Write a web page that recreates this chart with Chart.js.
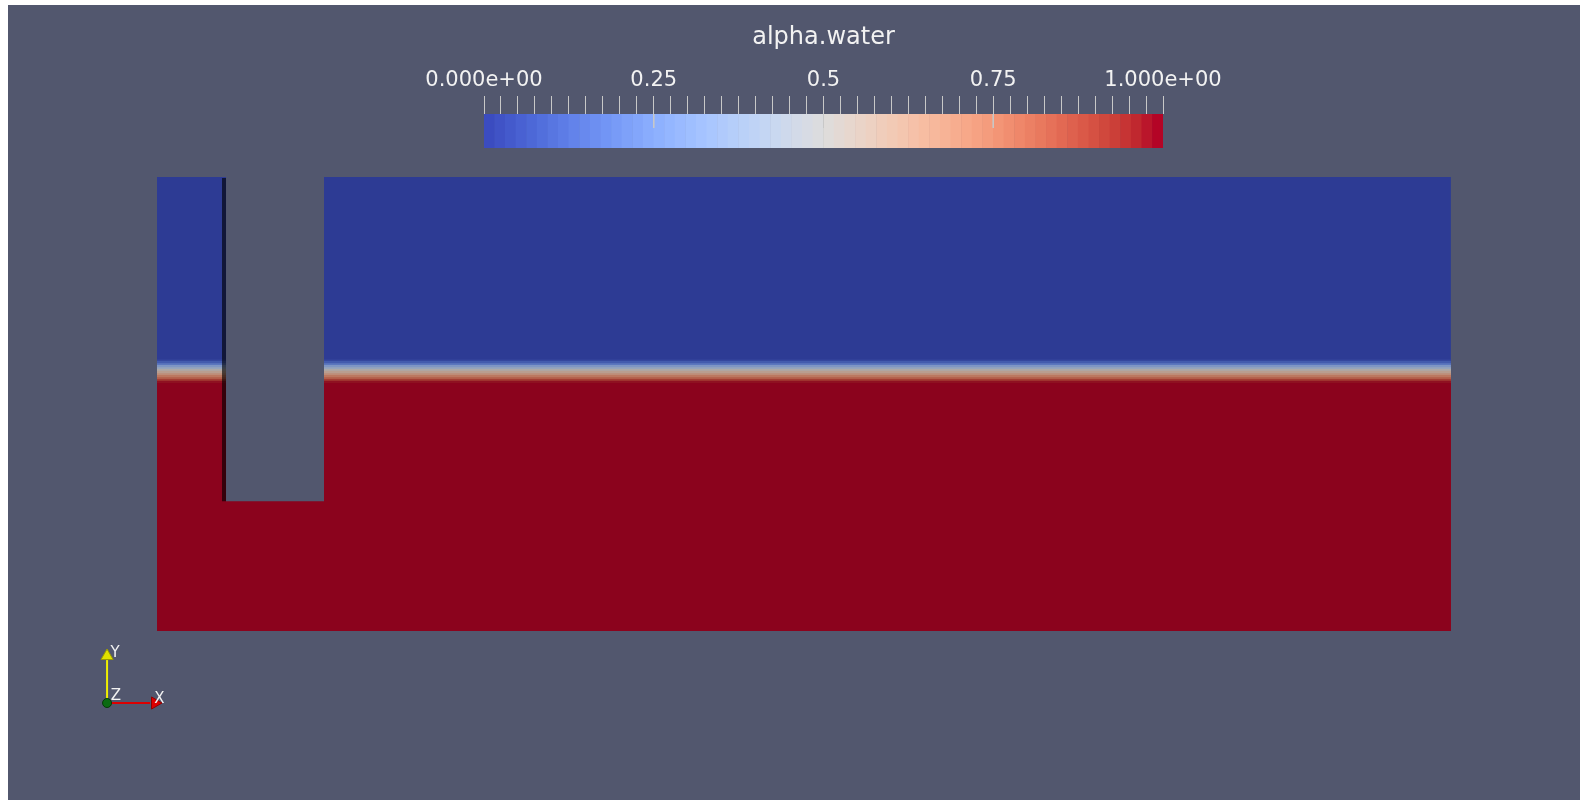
<!DOCTYPE html>
<html lang="en">
<head>
  <meta charset="UTF-8" />
  <title>alpha.water</title>
  <script src="https://cdn.jsdelivr.net/npm/chart.js"></script>
  <style>
    html, body { margin: 0; padding: 0; background: #fff; }
    #view { position: absolute; left: 8px; top: 5px; width: 1572px; height: 795px; background: #52576e; overflow: hidden; }
    #view canvas { position: absolute; left: 0; top: 0; }
  </style>
</head>
<body>
  <div id="view">
    <canvas id="field" width="1572" height="795"></canvas>
    <canvas id="legend" width="1572" height="795"></canvas>
  </div>

  <script>
    // tank (height = 1), layers top -> bottom: top edge of each layer and its alpha.water
    const tankLength = 2.85;
    const tankHeight = 1.0;
    const layerTop   = [1.0, 0.599, 0.595, 0.590, 0.586, 0.581, 0.577, 0.573, 0.568, 0.564, 0.559, 0.555, 0.551, 0.546];
    const layerAlpha = [0,   0.03,  0.1,   0.2,   0.32,  0.42,  0.5,   0.58,  0.66,  0.74,  0.82,  0.9,   0.97,  1];

    // baffle (empty cut-out in the mesh)
    const baffleLeft = 0.143;
    const baffleEdge = 0.152;
    const baffleRight = 0.368;
    const baffleBottom = 0.286;

    // colour legend
    const tickValues = [0, 0.25, 0.5, 0.75, 1];
    const tickLabels = ['0.000e+00', '0.25', '0.5', '0.75', '1.000e+00'];

    const bg = '#52576e';
    const textColor = '#f2f2f2';
    const fontFamily = '"DejaVu Sans", sans-serif';

    // Cool to Warm (Moreland) table
    const coolWarm = [
      [59,76,192],[68,90,204],[77,104,215],[87,117,225],[98,130,234],[108,142,241],[119,154,247],[130,165,251],
      [141,176,254],[152,185,255],[163,194,255],[174,201,253],[184,208,249],[194,213,244],[204,217,238],[213,219,230],
      [221,221,221],[229,216,209],[236,211,197],[241,204,185],[245,196,173],[247,187,160],[247,177,148],[247,166,135],
      [244,154,123],[241,141,111],[236,127,99],[229,112,88],[222,96,77],[213,80,66],[203,62,56],[192,40,47],[180,4,38]
    ];
    const nBands = 64;
    const shade = 0.77; // surface lighting in the render view

    function cmap(t) {
      const p = Math.min(Math.max(t, 0), 1) * (coolWarm.length - 1);
      const i = Math.min(Math.floor(p), coolWarm.length - 2);
      const f = p - i;
      return coolWarm[i].map((c, k) => c + (coolWarm[i + 1][k] - c) * f);
    }
    function lutColor(t, s) {
      const idx = Math.min(nBands - 1, Math.floor(t * nBands));
      const c = cmap(idx / (nBands - 1));
      return 'rgb(' + c.map(v => Math.round(v * (s || 1))).join(',') + ')';
    }

    function rect(x0, x1, top, bottom, color) {
      return {
        data: [{ x: x0, y: top }, { x: x1, y: top }],
        fill: { value: bottom },
        backgroundColor: color,
        borderColor: 'transparent',
        borderWidth: 0,
        pointRadius: 0,
        pointHoverRadius: 0
      };
    }

    // ---------- field view ----------
    const ds = [];
    layerTop.forEach((t, i) => ds.push(rect(0, tankLength, t, 0, lutColor(layerAlpha[i], shade))));
    ds.push(rect(baffleEdge, baffleRight, tankHeight, baffleBottom, bg));
    ds.push(rect(baffleLeft, baffleEdge, tankHeight - 0.002, baffleBottom, 'rgba(0,0,0,0.62)'));

    // orientation axes
    const triad = {
      ox: -0.110, oy: -0.1586,
      yShaft: -0.064, yHead: -0.0551,
      xShaft: -0.0154, xHead: -0.0044,
      labels: [
        { text: 'Y', x: -0.0925, y: -0.0485 },
        { text: 'Z', x: -0.0903, y: -0.1425 },
        { text: 'X', x: 0.0051, y: -0.1498 }
      ]
    };
    ds.push({ data: [{ x: triad.ox, y: triad.oy }, { x: triad.ox, y: triad.yShaft }], borderColor: '#f0f000', borderWidth: 2, pointRadius: 0, fill: false });
    ds.push({ data: [{ x: triad.ox, y: triad.oy }, { x: triad.xShaft, y: triad.oy }], borderColor: '#dc0000', borderWidth: 2, pointRadius: 0, fill: false });
    ds.push({ data: [{ x: triad.ox, y: triad.yHead }], showLine: false, pointStyle: 'triangle', pointRadius: 7, backgroundColor: '#e0e000', borderColor: '#9a9a00', borderWidth: 1 });
    ds.push({ data: [{ x: triad.xHead, y: triad.oy }], showLine: false, pointStyle: 'triangle', rotation: 90, pointRadius: 7, backgroundColor: '#dd0000', borderColor: '#900000', borderWidth: 1 });
    ds.push({ data: [{ x: triad.ox, y: triad.oy }], showLine: false, pointStyle: 'circle', pointRadius: 4.5, backgroundColor: '#0b6b12', borderColor: '#043a08', borderWidth: 1 });

    ds.forEach((d, i) => { d.order = -i; });

    const triadText = {
      id: 'triadText',
      afterDatasetsDraw(chart) {
        const { ctx, scales: { x, y } } = chart;
        ctx.save();
        ctx.fillStyle = textColor;
        ctx.font = '15px ' + fontFamily;
        ctx.textAlign = 'center';
        ctx.textBaseline = 'middle';
        triad.labels.forEach(l => ctx.fillText(l.text, x.getPixelForValue(l.x), y.getPixelForValue(l.y)));
        ctx.restore();
      }
    };

    new Chart(document.getElementById('field'), {
      type: 'line',
      data: { datasets: ds },
      options: {
        responsive: false,
        animation: false,
        events: [],
        layout: { padding: 0, autoPadding: false },
        plugins: { legend: { display: false }, tooltip: { enabled: false } },
        scales: {
          x: { type: 'linear', display: false, min: -0.32819, max: 3.13436 },
          y: { type: 'linear', display: false, min: -0.37225, max: 1.37885 }
        }
      },
      plugins: [triadText]
    });

    // ---------- colour legend ----------
    const bands = [];
    for (let i = 0; i < nBands; i++) {
      bands.push({ x: (i + 0.5) / nBands, y: [0, 1] });
    }

    new Chart(document.getElementById('legend'), {
      type: 'bar',
      data: {
        datasets: [
          {
            data: bands,
            backgroundColor: bands.map(b => lutColor(b.x)),
            barPercentage: 1.05,
            categoryPercentage: 1,
            borderWidth: 0,
            order: 2
          },
          ...tickValues.slice(1, -1).map(v => ({
            type: 'line',
            data: [{ x: v, y: 1 }, { x: v, y: 0.59 }],
            borderColor: '#c8c8c8',
            borderWidth: 1,
            pointRadius: 0,
            fill: false,
            order: 1
          }))
        ]
      },
      options: {
        responsive: false,
        animation: false,
        events: [],
        layout: { padding: { left: 476, right: 417, top: 18, bottom: 652 }, autoPadding: false },
        plugins: { legend: { display: false }, tooltip: { enabled: false } },
        scales: {
          x: {
            type: 'linear',
            position: 'top',
            min: 0,
            max: 1,
            offset: false,
            grid: { offset: false, drawOnChartArea: false, drawTicks: true, tickLength: 18, color: '#c8c8c8', lineWidth: 1 },
            border: { display: false },
            ticks: {
              stepSize: 0.025,
              autoSkip: false,
              maxRotation: 0,
              padding: 3,
              color: textColor,
              font: { family: fontFamily, size: 21 },
              callback: v => {
                const k = tickValues.findIndex(t => Math.abs(t - v) < 1e-6);
                return k < 0 ? '' : tickLabels[k];
              }
            },
            title: { display: true, text: 'alpha.water', color: textColor, font: { family: fontFamily, size: 24 }, padding: { top: 0, bottom: 0 } },
            afterFit: s => { s.height = 91; }
          },
          y: { display: false, min: 0, max: 1 }
        }
      }
    });
  </script>
</body>
</html>
